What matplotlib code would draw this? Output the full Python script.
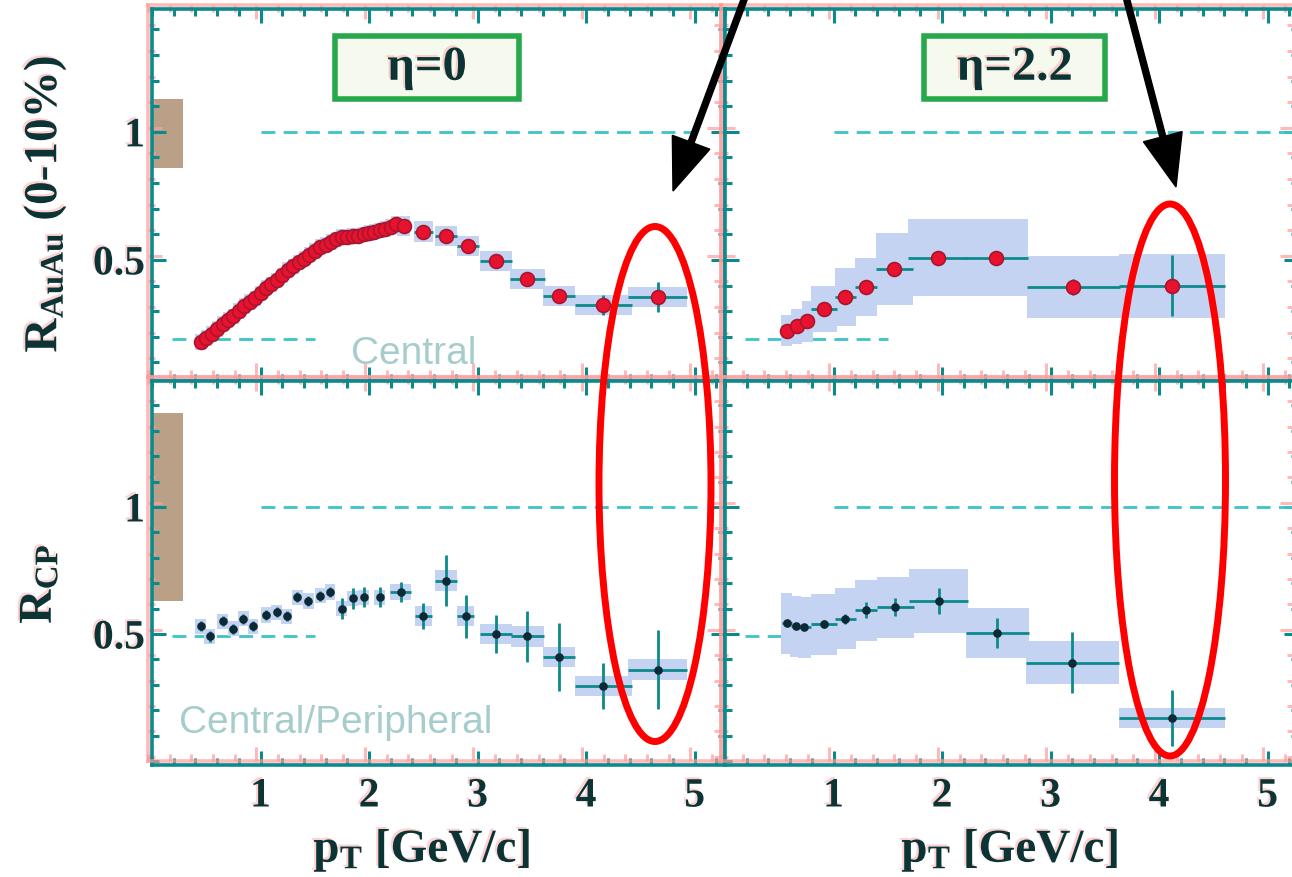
import numpy as np
import matplotlib
matplotlib.use('Agg')
from matplotlib import pyplot as plt
from matplotlib.patches import Rectangle, Ellipse, FancyArrow
from matplotlib.ticker import MultipleLocator, FixedLocator
import matplotlib.patheffects as pe

plt.rcParams['mathtext.fontset'] = 'custom'
plt.rcParams['mathtext.rm'] = 'Liberation Serif:bold'
plt.rcParams['mathtext.it'] = 'Liberation Serif:bold'
plt.rcParams['mathtext.bf'] = 'Liberation Serif:bold'

TEAL = '#0b8a8c'
INK = '#0c3434'
RED = '#e8122e'
RED_EDGE = '#a8162e'
DOT = '#0b2a35'
SYS = '#c4d3f2'
DASH = '#3cc4c8'
GHOST = '#ff9c9c'
NORM = '#b9a087'

# R_AuAu (0-10%), eta = 0
raa0_pt = [0.45, 0.50, 0.55, 0.60, 0.65, 0.70, 0.75, 0.80, 0.85, 0.90,
           0.95, 1.00, 1.05, 1.10, 1.15, 1.20, 1.25, 1.30, 1.35, 1.40,
           1.45, 1.50, 1.55, 1.60, 1.65, 1.70, 1.75, 1.80, 1.85, 1.90,
           1.95, 2.00, 2.05, 2.10, 2.15, 2.20, 2.25,
           2.32, 2.50, 2.71, 2.91, 3.17, 3.46, 3.75, 4.16, 4.66]
raa0_val = [0.18, 0.195, 0.21, 0.23, 0.25, 0.265, 0.28, 0.30, 0.32, 0.335,
            0.35, 0.37, 0.39, 0.405, 0.42, 0.44, 0.46, 0.475, 0.49, 0.505,
            0.52, 0.535, 0.55, 0.56, 0.57, 0.58, 0.59, 0.59, 0.595, 0.595,
            0.60, 0.605, 0.61, 0.615, 0.62, 0.63, 0.64,
            0.633, 0.61, 0.594, 0.555, 0.496, 0.426, 0.36, 0.324, 0.355]
raa0_xerr = [0] * 37 + [0.06, 0.09, 0.1, 0.1, 0.15, 0.16, 0.15, 0.26, 0.27]
raa0_yerr = [0.01] * 37 + [0.02, 0.02, 0.02, 0.02, 0.02, 0.02, 0.02, 0.04, 0.06]
raa0_sys = [0.03] * 37 + [0.04] * 9

# R_AuAu (0-10%), eta = 2.2
raa22_pt = [0.57, 0.66, 0.76, 0.91, 1.11, 1.30, 1.56, 1.96, 2.50, 3.21, 4.12]
raa22_val = [0.223, 0.24, 0.26, 0.31, 0.355, 0.394, 0.465, 0.508, 0.508, 0.394, 0.40]
raa22_xerr = [0.045, 0.045, 0.05, 0.12, 0.1, 0.1, 0.17, 0.27, 0.29, 0.43, 0.49]
raa22_yerr = [0.01, 0.01, 0.01, 0.01, 0.015, 0.02, 0.025, 0.02, 0.02, 0.03, 0.12]
raa22_sys = [0.06, 0.07, 0.08, 0.09, 0.115, 0.115, 0.14, 0.15, 0.15, 0.12, 0.125]

# R_CP central/peripheral, eta = 0
rcp0_pt = [0.45, 0.53, 0.65, 0.75, 0.84, 0.93, 1.05, 1.15, 1.24, 1.34,
           1.44, 1.55, 1.64, 1.75, 1.85, 1.95, 2.10, 2.29,
           2.50, 2.71, 2.89, 3.17, 3.46, 3.75, 4.16, 4.66]
rcp0_val = [0.53, 0.49, 0.55, 0.52, 0.56, 0.53, 0.575, 0.585, 0.57, 0.645,
            0.63, 0.65, 0.665, 0.60, 0.64, 0.645, 0.645, 0.665,
            0.57, 0.71, 0.57, 0.50, 0.49, 0.41, 0.295, 0.36]
rcp0_xerr = [0] * 17 + [0.1, 0.08, 0.1, 0.08, 0.15, 0.15, 0.15, 0.26, 0.27]
rcp0_yerr = [0.02] * 13 + [0.04] * 5 + [0.05, 0.10, 0.085, 0.075, 0.10, 0.135, 0.09, 0.155]
rcp0_sys = [0.03] * 18 + [0.04] * 8

# R_CP central/peripheral, eta = 2.2
rcp22_pt = [0.57, 0.65, 0.73, 0.91, 1.11, 1.30, 1.57, 1.97, 2.51, 3.20, 4.12]
rcp22_val = [0.543, 0.531, 0.526, 0.539, 0.559, 0.594, 0.606, 0.630, 0.504, 0.386, 0.169]
rcp22_xerr = [0.045, 0.04, 0.06, 0.12, 0.1, 0.1, 0.17, 0.27, 0.29, 0.43, 0.49]
rcp22_yerr = [0.01, 0.01, 0.01, 0.015, 0.02, 0.03, 0.035, 0.05, 0.06, 0.12, 0.11]
rcp22_sys = [0.12, 0.12, 0.12, 0.12, 0.12, 0.12, 0.12, 0.125, 0.10, 0.085, 0.04]

ghost = [pe.SimpleLineShadow(offset=(-3, 3), shadow_color=GHOST, alpha=0.7), pe.Normal()]
ghost_text = [pe.withSimplePatchShadow(offset=(-1.5, 1.5), shadow_rgbFace=GHOST, alpha=0.45)]


def style_axes(ax, ylim, xlabels, ylabels):
    ax.set_xlim(0, 5.28)
    ax.set_ylim(*ylim)
    ax.xaxis.set_major_locator(FixedLocator([1, 2, 3, 4, 5]))
    ax.xaxis.set_minor_locator(MultipleLocator(0.2))
    ax.yaxis.set_major_locator(FixedLocator([0.5, 1]))
    ax.yaxis.set_minor_locator(MultipleLocator(0.1))
    ax.tick_params(which='both', direction='in', top=True, right=True,
                   color=TEAL, width=2.2, labelcolor=INK)
    ax.tick_params(which='major', length=10, pad=9)
    ax.tick_params(which='minor', length=5)
    if xlabels:
        ax.set_xticks([1, 2, 3, 4, 5], ['1', '2', '3', '4', '5'])
    else:
        ax.tick_params(labelbottom=False)
    if ylabels:
        ax.set_yticks([0.5, 1], ['0.5', '1'])
        ax.tick_params(axis='y', which='major', pad=5)
    else:
        ax.tick_params(labelleft=False)
    for lab in ax.get_xticklabels() + ax.get_yticklabels():
        lab.set_fontfamily('Liberation Serif')
        lab.set_fontweight('bold')
        lab.set_fontsize(30)
        lab.set_path_effects(ghost_text)
    for sp in ax.spines.values():
        sp.set_color(TEAL)
        sp.set_linewidth(2.6)
        sp.set_path_effects(ghost)
    for t in ax.xaxis.get_ticklines(minor=True) + ax.xaxis.get_ticklines() + \
            ax.yaxis.get_ticklines(minor=True) + ax.yaxis.get_ticklines():
        t.set_path_effects(ghost)


def draw_points(ax, pt, val, xerr, yerr, sys, color, edge, ms):
    # systematic boxes behind the points
    for x, y, dx, s in zip(pt, val, xerr, sys):
        w = max(dx, 0.05)
        ax.add_patch(Rectangle((x - w, y - s), 2 * w, 2 * s, facecolor=SYS,
                               edgecolor='none', zorder=1))
    ax.errorbar(pt, val, xerr=xerr, yerr=yerr, fmt='o', color=color, mec=edge,
                mew=1.2, ms=ms, ecolor=TEAL, elinewidth=2, capsize=0, zorder=3)


def ref_lines(ax, low_level, x_end):
    ax.plot([1, x_end], [1, 1], ls=(0, (5, 3)), color=DASH, lw=2, zorder=2)
    ax.plot([0.18, 1.5], [low_level, low_level], ls=(0, (5, 3)), color=DASH, lw=2, zorder=0.5)


def eta_box(ax, x0, x1, text):
    ax.add_patch(Rectangle((x0, 0.758), x1 - x0, 0.169, transform=ax.transAxes,
                           facecolor='#f6f9ee', edgecolor='#27a84a', lw=4, zorder=4))
    ax.text((x0 + x1) / 2, 0.842, text, transform=ax.transAxes, ha='center', va='center',
            fontsize=35, fontfamily='Liberation Serif', fontweight='bold', color=INK,
            zorder=5, path_effects=ghost_text)


W, H = 1292, 878
fig = plt.figure(figsize=(W / 100, H / 100), dpi=100)

top_ylim = (0.027, 1.48)
bot_ylim = (-0.016, 1.496)
ax_tl = fig.add_axes([152 / W, (H - 382) / H, 573 / W, 372 / H])
ax_tr = fig.add_axes([725 / W, (H - 382) / H, 573 / W, 372 / H])
ax_bl = fig.add_axes([152 / W, (H - 766) / H, 573 / W, 384 / H])
ax_br = fig.add_axes([725 / W, (H - 766) / H, 573 / W, 384 / H])

style_axes(ax_tl, top_ylim, False, True)
style_axes(ax_tr, top_ylim, False, False)
style_axes(ax_bl, bot_ylim, True, True)
style_axes(ax_br, bot_ylim, True, False)

ref_lines(ax_tl, 0.19, 5.05)
ref_lines(ax_tr, 0.19, 5.3)
ref_lines(ax_bl, 0.49, 5.05)
ref_lines(ax_br, 0.49, 5.3)

# normalisation uncertainty
ax_tl.add_patch(Rectangle((0, 0.86), 0.29, 0.27, facecolor=NORM, edgecolor='none', zorder=1))
ax_bl.add_patch(Rectangle((0, 0.63), 0.29, 0.74, facecolor=NORM, edgecolor='none', zorder=1))

draw_points(ax_tl, raa0_pt, raa0_val, raa0_xerr, raa0_yerr, raa0_sys, RED, RED_EDGE, 10)
draw_points(ax_tr, raa22_pt, raa22_val, raa22_xerr, raa22_yerr, raa22_sys, RED, RED_EDGE, 10)
draw_points(ax_bl, rcp0_pt, rcp0_val, rcp0_xerr, rcp0_yerr, rcp0_sys, DOT, DOT, 5)
draw_points(ax_br, rcp22_pt, rcp22_val, rcp22_xerr, rcp22_yerr, rcp22_sys, DOT, DOT, 5)

eta_box(ax_tl, 0.32, 0.64, 'η=0')
eta_box(ax_tr, 0.348, 0.663, 'η=2.2')

ax_tl.text(2.41, 0.137, 'Central', ha='center', va='center', fontsize=28,
           fontfamily='Liberation Sans', color='#a6cccc', zorder=2)
ax_bl.text(1.69, 0.153, 'Central/Peripheral', ha='center', va='center', fontsize=28,
           fontfamily='Liberation Sans', color='#a6cccc', zorder=2)

lab = dict(fontsize=34, fontfamily='Liberation Serif', fontweight='bold', color=INK,
           ha='center', va='center', path_effects=ghost_text)
fig.text(45 / W, 1 - 205 / H, r'$\mathrm{R_{AuAu}}$ (0-10%)', rotation=90, **lab)
fig.text(40 / W, 1 - 585 / H, r'$\mathrm{R_{CP}}$', rotation=90, **lab)
fig.text(422 / W, 1 - 852 / H, r'$\mathrm{p_T}$ [GeV/c]', **lab)
fig.text(1010 / W, 1 - 852 / H, r'$\mathrm{p_T}$ [GeV/c]', **lab)

# annotation layer in pixel units
over = fig.add_axes([0, 0, 1, 1], zorder=10)
over.set_xlim(0, W)
over.set_ylim(H, 0)
over.axis('off')
over.patch.set_alpha(0)

over.add_patch(Ellipse((655, 485), 112, 515, fill=False, ec='#ff0000', lw=5))
over.add_patch(Ellipse((1170, 481), 111, 552, fill=False, ec='#ff0000', lw=5))
over.add_patch(FancyArrow(748, -10, 673 - 748, 192 + 10, width=6, head_width=40,
                          head_length=52, length_includes_head=True, color='k'))
over.add_patch(FancyArrow(1124, -10, 1176 - 1124, 188 + 10, width=6, head_width=40,
                          head_length=52, length_includes_head=True, color='k'))

fig.savefig('out.png', dpi=100)
